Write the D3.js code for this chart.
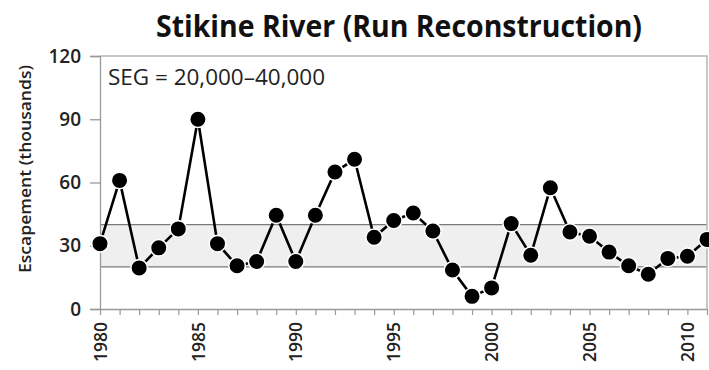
<!DOCTYPE html>
<html>
<head>
<meta charset="utf-8">
<script src="https://cdn.jsdelivr.net/npm/d3@7"></script>
<style>
  html, body { margin: 0; padding: 0; background: #fff; }
  svg { display: block; }
  text { font-family: "Open Sans", sans-serif; }
</style>
</head>
<body>
<svg id="chart" width="709" height="370"></svg>
<script>
// Stikine River escapement by year (thousands of fish)
const years = d3.range(1980, 2012);
const escapement = [31, 61, 19.5, 29, 38, 90, 31, 20.5, 22.5, 44.5, 22.5, 44.5, 65, 71, 34, 42, 45.5,
                    37, 18.5, 6, 10, 40.5, 25.5, 57.5, 36.5, 34.5, 27, 20.5, 16.5, 24, 25, 33];
const segRange = [20, 40];
const yTicks = [0, 30, 60, 90, 120];
const xLabelYears = [1980, 1985, 1990, 1995, 2000, 2005, 2010];

const titleText = "Stikine River (Run Reconstruction)";
const yTitle = "Escapement (thousands)";
const segLabel = "SEG = 20,000\u201340,000";

const svg = d3.select("#chart");
const m = { left: 100, right: 707, top: 56, bottom: 309 };

const x = d3.scaleLinear().domain([1980, 2011]).range([m.left, m.right]);
const y = d3.scaleLinear().domain([0, 120]).range([m.bottom, m.top]);

// SEG goal band
svg.append("rect")
  .attr("x", m.left).attr("width", m.right - m.left)
  .attr("y", y(segRange[1])).attr("height", y(segRange[0]) - y(segRange[1]))
  .attr("fill", "#efefef");
svg.selectAll("line.seg").data(segRange).join("line")
  .attr("class", "seg")
  .attr("x1", m.left).attr("x2", m.right)
  .attr("y1", d => y(d)).attr("y2", d => y(d))
  .attr("stroke", "#7a7a7a").attr("stroke-width", 1.4);

// plot frame (top and right)
svg.append("path")
  .attr("d", `M${m.left},${m.top}H${m.right}V${m.bottom}`)
  .attr("fill", "none").attr("stroke", "#b5b5b5").attr("stroke-width", 1.5);

// y axis
const yAxis = svg.append("g")
  .attr("transform", `translate(${m.left},0)`)
  .call(d3.axisLeft(y).tickValues(yTicks).tickSize(10).tickPadding(9));
yAxis.select(".domain").attr("stroke", "#999").attr("stroke-width", 1.3);
yAxis.selectAll(".tick line").attr("stroke", "#999").attr("stroke-width", 1.3);
yAxis.selectAll("text")
  .attr("font-family", "Open Sans").attr("font-size", 19).attr("font-weight", 600)
  .attr("fill", "#222");

// x axis
const xAxis = svg.append("g")
  .attr("transform", `translate(0,${m.bottom})`)
  .call(d3.axisBottom(x).tickValues(years).tickSize(6).tickSizeOuter(0)
    .tickFormat(d => xLabelYears.includes(d) ? String(d) : ""));
xAxis.select(".domain").attr("stroke", "#999").attr("stroke-width", 1.3);
xAxis.selectAll(".tick line").attr("stroke", "#999").attr("stroke-width", 1.2);
xAxis.selectAll("text")
  .attr("font-family", "Open Sans").attr("font-size", 17.5).attr("font-weight", 600)
  .attr("fill", "#222")
  .attr("text-anchor", "end")
  .attr("dy", "0.35em")
  .attr("transform", "translate(0,13) rotate(-90)")
  .attr("x", 0).attr("y", 0);

// escapement series
const data = years.map((yr, i) => ({ yr, v: escapement[i] }));
svg.append("path")
  .datum(data)
  .attr("fill", "none").attr("stroke", "#000").attr("stroke-width", 2.6)
  .attr("d", d3.line().x(d => x(d.yr)).y(d => y(d.v)));
svg.selectAll("circle.pt").data(data).join("circle")
  .attr("class", "pt")
  .attr("cx", d => x(d.yr)).attr("cy", d => y(d.v)).attr("r", 8.3)
  .attr("fill", "#000").attr("stroke", "#fff").attr("stroke-width", 1.6);

// SEG annotation
svg.append("text")
  .attr("x", 108).attr("y", 85)
  .attr("font-size", 21).attr("fill", "#222")
  .attr("textLength", 217).attr("lengthAdjust", "spacingAndGlyphs")
  .text(segLabel);

// y axis title
svg.append("text")
  .attr("transform", "translate(31,169) rotate(-90)")
  .attr("text-anchor", "middle")
  .attr("font-size", 17).attr("font-weight", 600).attr("fill", "#222")
  .attr("textLength", 208).attr("lengthAdjust", "spacingAndGlyphs")
  .text(yTitle);

// chart title
svg.append("text")
  .attr("x", 156).attr("y", 37)
  .attr("font-size", 30).attr("font-weight", 700).attr("fill", "#111")
  .attr("textLength", 486).attr("lengthAdjust", "spacingAndGlyphs")
  .text(titleText);
</script>
</body>
</html>
